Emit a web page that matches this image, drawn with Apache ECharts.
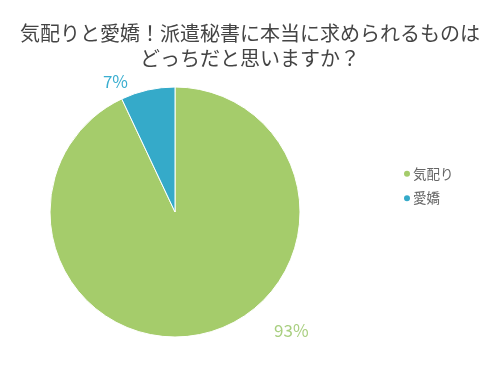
<!DOCTYPE html>
<html><head><meta charset="utf-8">
<script src="https://cdn.jsdelivr.net/npm/echarts@6/dist/echarts.min.js"></script>
<style>html,body{margin:0;padding:0;background:#fff}#c{width:500px;height:370px}</style>
</head><body><div id="c"></div>
<script>
const titleText = "気配りと愛嬌！派遣秘書に本当に求められるものは\nどっちだと思いますか？";
const categories = ["気配り", "愛嬌"];
const values = [93, 7];
const colors = ["#a5cc6b", "#35aac9"];
const labelColors = ["#a9cf80", "#3aaed0"];
const labelOffsets = [[65, -11], [-13, -1]];

const chart = echarts.init(document.getElementById('c'), null, {renderer: 'canvas'});
chart.setOption({
  animation: false,
  title: {
    text: titleText, left: 'center', top: 16,
    textStyle: {fontFamily: 'Noto Sans CJK JP', fontSize: 20, fontWeight: 'normal', color: '#444', lineHeight: 25}
  },
  legend: {
    orient: 'vertical', left: 397, top: 162, icon: 'circle', itemWidth: 8, itemHeight: 8, itemGap: 11,
    textStyle: {fontFamily: 'Noto Sans CJK JP', fontSize: 13.5, color: '#666', padding: [0,0,0,-3]},
    data: categories
  },
  series: [{
    type: 'pie', center: [175, 212], radius: 125, startAngle: 90, clockwise: true,
    itemStyle: {borderColor: '#fff', borderWidth: 1},
    labelLine: {show: false, length: 8, length2: 0},
    emphasis: {disabled: true},
    data: categories.map((n, i) => ({
      name: n, value: values[i],
      itemStyle: {color: colors[i]},
      label: {show: true, position: 'outside', formatter: '{c}%', color: labelColors[i],
        fontFamily: 'Noto Sans CJK JP', fontSize: 17, offset: labelOffsets[i]}
    }))
  }]
});
</script></body></html>
